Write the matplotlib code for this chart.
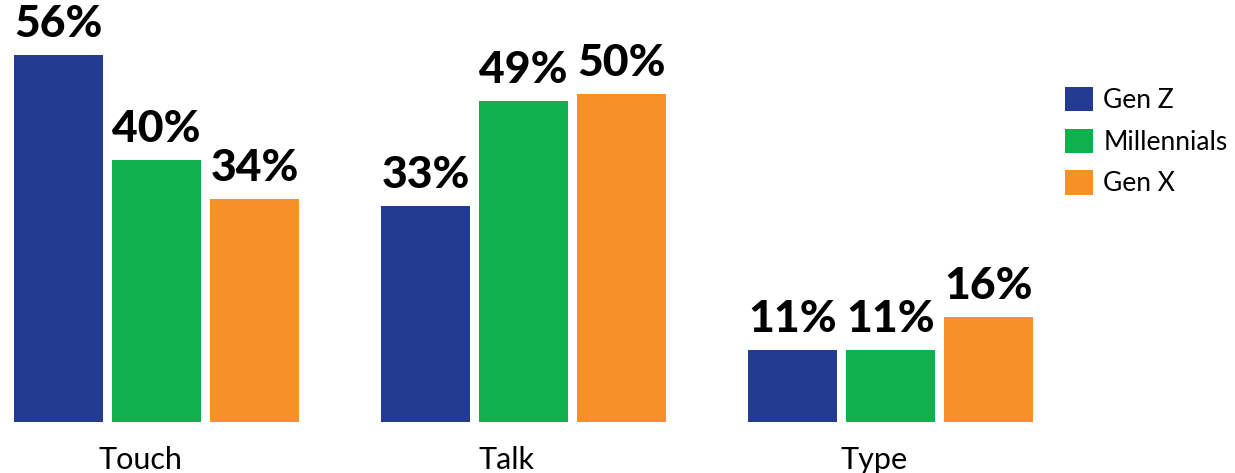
import matplotlib.pyplot as plt
import numpy as np

plt.rcParams['font.family'] = ['Lato', 'DejaVu Sans']

categories = ['Touch', 'Talk', 'Type']
series = ['Gen Z', 'Millennials', 'Gen X']
gen_z = [56, 33, 11]
millennials = [40, 49, 11]
gen_x = [34, 50, 16]
colors = ['#233C92', '#10B04C', '#F79028']

W, H = 1235, 473
fig = plt.figure(figsize=(W / 100, H / 100), dpi=100)

# one data unit on x = 367 px (distance between groups)
unit = 367.0
x0 = 156.5  # pixel position of the first group centre
base = 422.0  # pixel row of the baseline
pct_px = 6.55

ax = fig.add_axes([0, (H - base) / H, 1, base / H])
ax.set_xlim(-x0 / unit, (W - x0) / unit)
ax.set_ylim(0, base / pct_px)

x = np.arange(len(categories))
width = 89 / unit
step = 98 / unit

for i, (vals, name) in enumerate(zip([gen_z, millennials, gen_x], series)):
    bars = ax.bar(x + (i - 1) * step, vals, width, color=colors[i], label=name)
    for b, v in zip(bars, vals):
        ax.annotate(f'{v}%', (b.get_x() + b.get_width() / 2, v),
                    xytext=(0, 8), textcoords='offset points',
                    ha='center', va='bottom', fontsize=32, fontweight='black')

for s in ax.spines.values():
    s.set_visible(False)
ax.set_yticks([])
ax.set_xticks(x - 0.045)
ax.set_xticklabels(categories, fontsize=22, fontweight='normal', color='black')
ax.tick_params(axis='x', length=0, pad=17)

ax.legend(loc='upper left', bbox_to_anchor=(1065 / W, 1 - 87 / H),
          bbox_transform=fig.transFigure, frameon=False, fontsize=19,
          handlelength=1.05, handleheight=1.05, handletextpad=0.4,
          labelspacing=0.58, borderpad=0, borderaxespad=0)

fig.savefig('out.png', dpi=100)
